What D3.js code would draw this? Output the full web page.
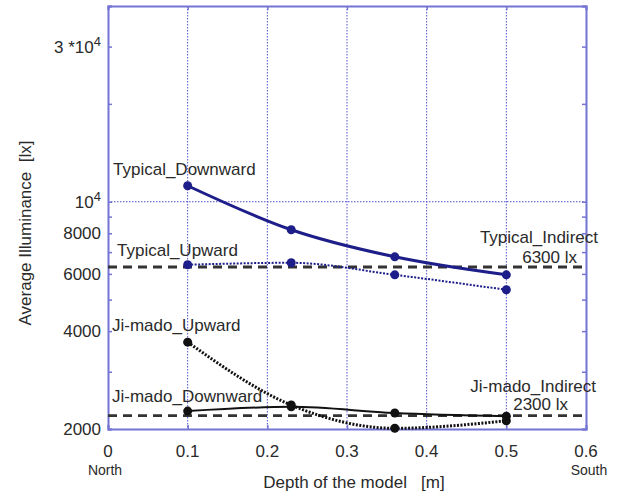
<!DOCTYPE html>
<html><head><meta charset="utf-8">
<script src="https://cdn.jsdelivr.net/npm/d3@7"></script>
<style>body{margin:0;background:#fff}svg{display:block}text{font-family:"Liberation Sans",Arial,sans-serif;fill:#2a2a2a}</style>
</head><body>
<svg id="c" width="619" height="495"></svg>
<script>
const depth = [0.1, 0.23, 0.36, 0.5];
const typicalDownward = [11200, 8200, 6770, 5960];
const typicalUpward = [6400, 6490, 5960, 5360];
const jimadoDownward = [2270, 2340, 2240, 2190];
const jimadoUpward = [3700, 2370, 2010, 2120];
const typicalIndirect = 6300;
const jimadoIndirect = 2200;
const xTicks = [0, 0.1, 0.2, 0.3, 0.4, 0.5, 0.6];
const yMajorTicks = [2000, 3000, 4000, 5000, 6000, 7000, 8000, 9000, 10000, 20000, 30000, 40000];
const yLabelTicks = [2000, 4000, 6000, 8000, 10000, 30000];

const svg = d3.select("#c");
const x = d3.scaleLinear().domain([0, 0.6]).range([108, 586]);
const y = d3.scaleLog().domain([2000, 40000]).range([429, 6]);
const navy = "#1e1e8a", axisCol = "#7474d4", gridCol = "#5050cc";

// grid
svg.append("g").selectAll("line").data(xTicks.slice(1, -1)).join("line")
  .attr("x1", d => x(d)).attr("x2", d => x(d)).attr("y1", y.range()[1]).attr("y2", y.range()[0])
  .attr("stroke", gridCol).attr("stroke-width", 1).attr("stroke-dasharray", "1.5,1.5");
svg.append("line").attr("x1", x(0)).attr("x2", x(0.6)).attr("y1", y(10000)).attr("y2", y(10000))
  .attr("stroke", gridCol).attr("stroke-width", 1).attr("stroke-dasharray", "1.5,1.5");

// axes
const gL = svg.append("g").attr("transform", `translate(${x(0)},0)`)
  .call(d3.axisRight(y).tickValues(yMajorTicks).tickSize(4).tickFormat(""));
const gR = svg.append("g").attr("transform", `translate(${x(0.6)},0)`)
  .call(d3.axisLeft(y).tickValues(yMajorTicks).tickSize(4).tickFormat(""));
const gB = svg.append("g").attr("transform", `translate(0,${y(2000)})`)
  .call(d3.axisTop(x).tickValues(xTicks).tickSize(4).tickFormat(""));
const gT = svg.append("g").attr("transform", `translate(0,${y(40000)})`)
  .call(d3.axisBottom(x).tickValues(xTicks).tickSize(4).tickFormat(""));
[gL, gR, gB, gT].forEach(g => {
  g.select(".domain").attr("stroke", axisCol).attr("stroke-width", 2);
  g.selectAll(".tick line").attr("stroke", axisCol).attr("stroke-width", 1.5);
});

// y tick labels
const yl = svg.append("g").selectAll("text").data(yLabelTicks).join("text")
  .attr("x", 101).attr("y", d => y(d) + 6).attr("text-anchor", "end").attr("font-size", 17);
yl.each(function(d) {
  const t = d3.select(this);
  if (d === 10000) { t.append("tspan").text("10"); t.append("tspan").attr("dy", -7).attr("font-size", 13).text("4"); }
  else if (d === 30000) { t.append("tspan").text("3 *10"); t.append("tspan").attr("dy", -7).attr("font-size", 13).text("4"); }
  else t.text(d);
});

// x tick labels
svg.append("g").selectAll("text").data(xTicks).join("text")
  .attr("x", d => x(d)).attr("y", 457).attr("text-anchor", "middle").attr("font-size", 17)
  .text(d => d === 0 ? "0" : d3.format(".1f")(d));
svg.append("text").attr("x", x(0) - 3).attr("y", 475).attr("text-anchor", "middle").attr("font-size", 14).text("North");
svg.append("text").attr("x", x(0.6) + 3).attr("y", 475).attr("text-anchor", "middle").attr("font-size", 14).text("South");

// axis titles
svg.append("text").attr("x", 354).attr("y", 488).attr("text-anchor", "middle").attr("font-size", 17)
  .attr("xml:space", "preserve").text("Depth of the model   [m]");
svg.append("text").attr("transform", "translate(31,233) rotate(-90)").attr("text-anchor", "middle")
  .attr("font-size", 17).attr("xml:space", "preserve").text("Average Illuminance  [lx]");

// indirect dashed lines
[typicalIndirect, jimadoIndirect].forEach(v => {
  svg.append("line").attr("x1", x(0)).attr("x2", x(0.6)).attr("y1", y(v)).attr("y2", y(v))
    .attr("stroke", "#333").attr("stroke-width", 2.8).attr("stroke-dasharray", "9,6");
});

// series
const line = d3.line().x(d => x(d[0])).y(d => y(d[1])).curve(d3.curveMonotoneX);
const series = [
  {v: jimadoDownward, c: "#111", w: 2, dash: null},
  {v: jimadoUpward, c: "#111", w: 3, dash: "2,1.5"},
  {v: typicalUpward, c: navy, w: 2, dash: "2,1.5"},
  {v: typicalDownward, c: navy, w: 3, dash: null}
];
series.forEach(s => {
  const pts = depth.map((d, i) => [d, s.v[i]]);
  svg.append("path").attr("d", line(pts)).attr("fill", "none").attr("stroke", s.c)
    .attr("stroke-width", s.w).attr("stroke-dasharray", s.dash);
  svg.append("g").selectAll("circle").data(pts).join("circle")
    .attr("cx", d => x(d[0])).attr("cy", d => y(d[1])).attr("r", 4.5).attr("fill", s.c);
});

// annotations
const ann = [
  ["Typical_Downward", 113, 175, "start"],
  ["Typical_Upward", 117, 256, "start"],
  ["Typical_Indirect", 598, 243, "end"],
  ["6300 lx", 577, 263, "end"],
  ["Ji-mado_Upward", 112, 331, "start"],
  ["Ji-mado_Downward", 112, 402, "start"],
  ["Ji-mado_Indirect", 596, 392, "end"],
  ["2300 lx", 568, 410, "end"]
];
svg.append("g").selectAll("text").data(ann).join("text")
  .attr("x", d => d[1]).attr("y", d => d[2]).attr("text-anchor", d => d[3]).attr("font-size", 17)
  .text(d => d[0]);
</script>
</body></html>
